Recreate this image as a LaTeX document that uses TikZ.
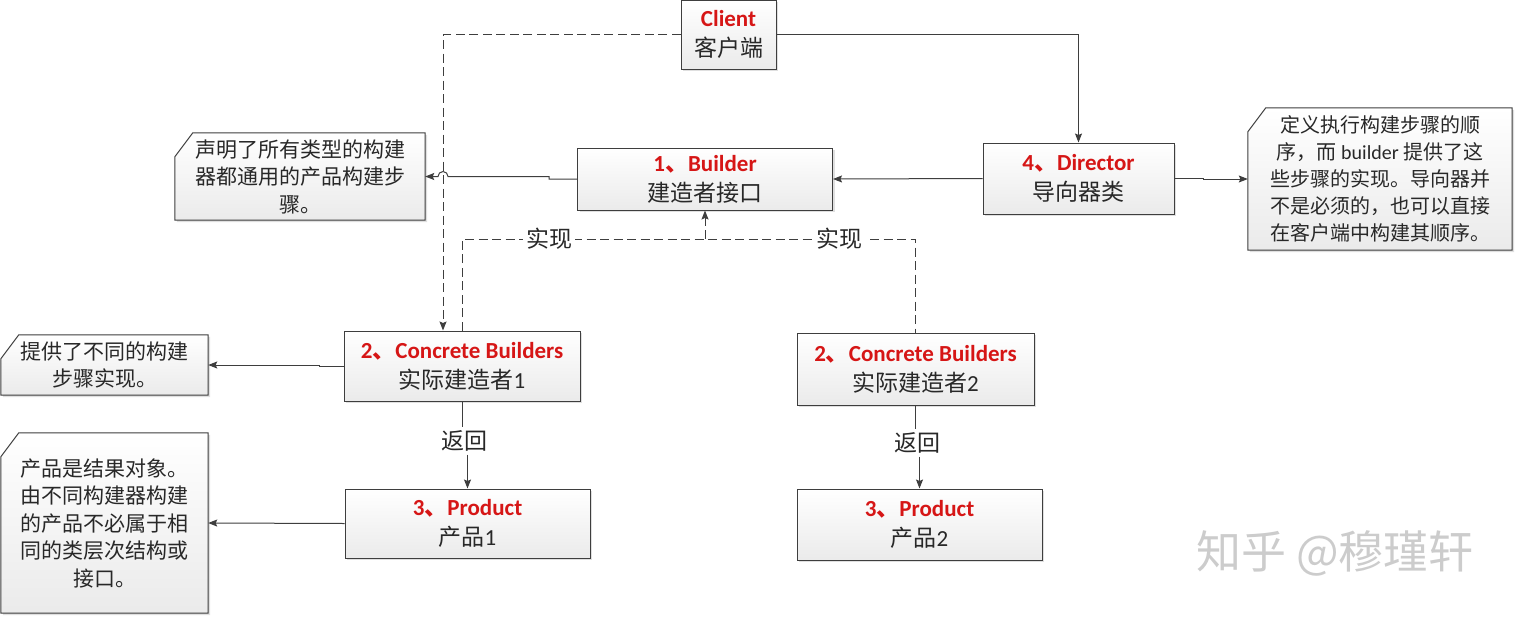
\documentclass[tikz,border=0pt]{standalone}
\usepackage{fontspec}
\setmainfont{Carlito}
\newfontfamily\cjk{Noto Sans CJK SC}
\usetikzlibrary{arrows.meta, positioning, calc, shadows, backgrounds}

\definecolor{titlered}{RGB}{214,22,22}
\definecolor{inkgray}{RGB}{40,40,40}
\definecolor{linegray}{RGB}{62,62,62}
\newcommand{\boxtitle}[1]{{\color{titlered}\bfseries #1}}

\begin{document}
\begin{tikzpicture}[
  x=1pt, y=-1pt,
  box/.style={rectangle, draw=linegray, line width=1pt, top color=white, bottom color=gray!16,
    drop shadow={shadow xshift=2pt, shadow yshift=-2pt, opacity=0.25},
    align=center, text=inkgray, inner sep=2pt, font=\fontsize{23}{30}\selectfont},
  notetext/.style={rectangle, align=center, text=inkgray, inner sep=2pt, font=\cjk\fontsize{21}{27.5}\selectfont},
  noteframe/.style={draw=linegray, line width=1pt, top color=white, bottom color=gray!16,
    drop shadow={shadow xshift=2pt, shadow yshift=-2pt, opacity=0.25}},
  arrow/.style={-{Stealth[length=9pt, width=7pt, inset=1.5pt]}, draw=linegray, line width=1pt},
  dashline/.style={draw=linegray, line width=1pt, dash pattern=on 9pt off 4.5pt},
  dasharrow/.style={arrow, dash pattern=on 9pt off 4.5pt},
  lbl/.style={text=inkgray, inner sep=3pt, font=\cjk\fontsize{23}{28}\selectfont}
]
\useasboundingbox (0,0) rectangle (1515,616);

% Main classes
\node[box, minimum width=95pt, minimum height=69pt] (client) at (728.5,34.5) {\boxtitle{Client}\\{\cjk 客户端}};
\node[box, minimum width=255pt, minimum height=62pt] (builder) at (705,179) {\boxtitle{1{\cjk 、}Builder}\\{\cjk 建造者接口}};
\node[box, minimum width=191pt, minimum height=71pt] (director) at (1078.5,178.5) {\boxtitle{4{\cjk 、}Director}\\{\cjk 导向器类}};
\node[box, minimum width=236pt, minimum height=70pt] (cb1) at (462,366) {\boxtitle{2{\cjk 、}Concrete Builders}\\{\cjk 实际建造者}1};
\node[box, minimum width=237pt, minimum height=72pt] (cb2) at (915.5,369) {\boxtitle{2{\cjk 、}Concrete Builders}\\{\cjk 实际建造者}2};
\node[box, minimum width=245pt, minimum height=69pt, below=87pt of cb1, xshift=5.5pt] (prod1) {\boxtitle{3{\cjk 、}Product}\\{\cjk 产品}1};
\node[box, minimum width=245pt, minimum height=71pt, below=83pt of cb2, xshift=4pt] (prod2) {\boxtitle{3{\cjk 、}Product}\\{\cjk 产品}2};

% Notes
\node[notetext, minimum width=250pt, minimum height=87pt] (note1) at (300,176.5) {声明了所有类型的构建\\器都通用的产品构建步\\骤。};
\node[notetext, minimum width=264pt, minimum height=142pt, font=\cjk\fontsize{20}{27}\selectfont] (note2) at (1380,179) {定义执行构建步骤的顺\\序，而 {\rmfamily builder} 提供了这\\些步骤的实现。导向器并\\不是必须的，也可以直接\\在客户端中构建其顺序。};
\node[notetext, minimum width=207pt, minimum height=60pt] (note3) at (104.5,365) {提供了不同的构建\\步骤实现。};
\node[notetext, minimum width=207pt, minimum height=180pt] (note4) at (104.5,523) {产品是结果对象。\\由不同构建器构建\\的产品不必属于相\\同的类层次结构或\\接口。};

\begin{scope}[on background layer]
\foreach \n in {note1,note2,note3,note4}
  \path[noteframe] ([yshift=-24pt]\n.north west) -- ([xshift=18pt]\n.north west) -- (\n.north east)
    -- (\n.south east) -- (\n.south west) -- cycle;
\end{scope}

% Client links
\draw[dasharrow] (client.west) -| ([xshift=-19pt]cb1.north);
\draw[arrow] (client.east) -| (director.north);
\draw[arrow] (director.west) -- (builder.east);

% Notes links
\coordinate (hop) at ([xshift=-19pt]cb1.north |- note1.east);
\draw[arrow] (builder.west) -- ++(-28,0) |- ([xshift=5pt]hop) arc[start angle=0, end angle=180, radius=5pt] -- (note1.east);
\draw[arrow] (director.east) -- ++(29,0) |- (note2.west);
\draw[arrow] (cb1.west) -- ++(-24,0) |- (note3.east);
\draw[arrow] (prod1.west) -- (note4.east);

% Realisation
\coordinate (impl) at (builder.south |- 0,239);
\draw[dashline] (cb1.north) |- node[lbl, fill=white, pos=0.68] {实现} (impl)
  -| node[lbl, fill=white, pos=0.32] {实现} (cb2.north);
\draw[dasharrow] (impl) -- (builder.south);

% Return
\node[lbl] (ret1) at (464.5,441) {返回};
\node[lbl] (ret2) at (917.5,443) {返回};
\draw[draw=linegray, line width=1pt] (cb1.south) -- (cb1.south |- ret1.north);
\draw[arrow] (prod1.north |- ret1.south) -- (prod1.north);
\draw[draw=linegray, line width=1pt] (cb2.south) -- (cb2.south |- ret2.north);
\draw[arrow] (prod2.north |- ret2.south) -- (prod2.north);

% Watermark
\node[text=gray!40, font=\cjk\fontsize{45}{45}\selectfont] (mark) at (1335,553) {知乎 @穆瑾轩};

\end{tikzpicture}
\end{document}
